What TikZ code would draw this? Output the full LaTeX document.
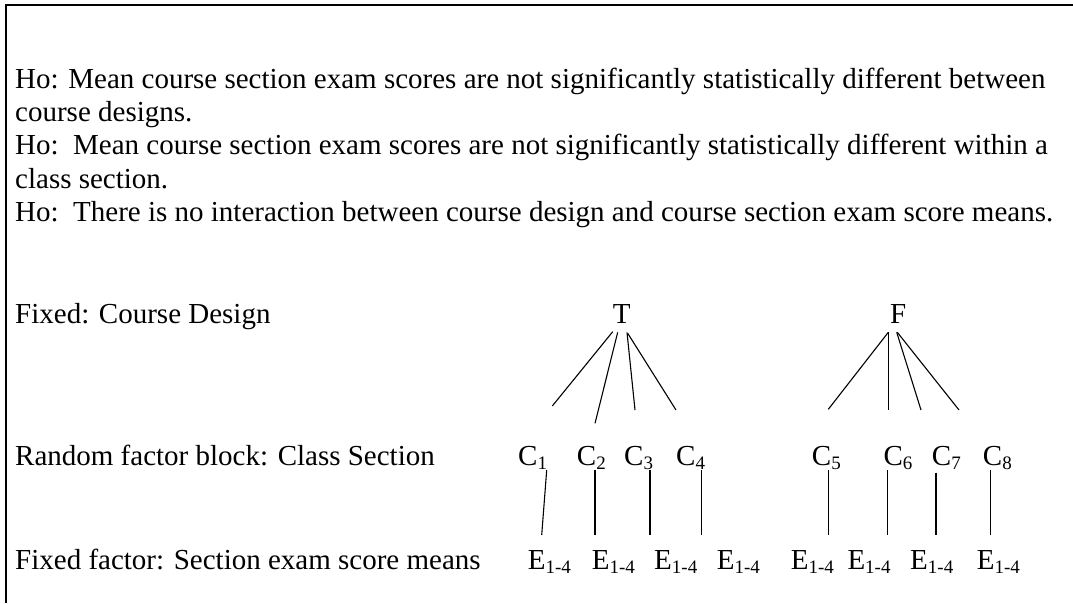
\documentclass[tikz,border=0pt]{standalone}
\usepackage{fontspec}
\setmainfont{Liberation Serif}
\newcommand\mysub[1]{\raisebox{-0.14em}{\fontsize{19}{19}\selectfont #1}}
\begin{document}
\begin{tikzpicture}[x=1pt,y=-1pt,
  txt/.style={anchor=base west,inner sep=0pt,font=\fontsize{29}{31}\selectfont},
  lab/.style={anchor=base,inner sep=0pt,font=\fontsize{29}{31}\selectfont},
  conn/.style={line width=1.1pt}]
\useasboundingbox (0,0) rectangle (1073,603);
\draw[line width=2.4pt] (1073,5) -- (6,5) -- (6,603);
% hypotheses
\node[txt] (h1) at (15,88) {Ho: Mean course section exam scores are not significantly statistically different between};
\node[txt] (h2) at (15,121.4) {course designs.};
\node[txt] (h3) at (15,154.7) {Ho:\ \ Mean course section exam scores are not significantly statistically different within a};
\node[txt] (h4) at (15,188.1) {class section.};
\node[txt] (h5) at (15,221.4) {Ho:\ \ There is no interaction between course design and course section exam score means.};
% row labels
\node[txt] (l1) at (15,323) {Fixed: Course Design};
\node[txt] (l2) at (15,465) {Random factor block: Class Section};
\node[txt] (l3) at (15,569) {Fixed factor: Section exam score means};
% tree
\node[lab] (T) at (621.7,323) {T};
\node[lab] (F) at (898.3,323) {F};
\node[txt] (C1) at (518,465) {C\mysub{1}};
\node[txt] (C2) at (576.7,465) {C\mysub{2}};
\node[txt] (C3) at (624,465) {C\mysub{3}};
\node[txt] (C4) at (676,465) {C\mysub{4}};
\node[txt] (C5) at (811.7,465) {C\mysub{5}};
\node[txt] (C6) at (883.3,465) {C\mysub{6}};
\node[txt] (C7) at (931.7,465) {C\mysub{7}};
\node[txt] (C8) at (982.7,465) {C\mysub{8}};
\node[txt] (E1) at (527.7,569) {E\mysub{1-4}};
\node[txt] (E2) at (591.7,569) {E\mysub{1-4}};
\node[txt] (E3) at (654,569) {E\mysub{1-4}};
\node[txt] (E4) at (716.7,569) {E\mysub{1-4}};
\node[txt] (E5) at (790.7,569) {E\mysub{1-4}};
\node[txt] (E6) at (847.3,569) {E\mysub{1-4}};
\node[txt] (E7) at (910,569) {E\mysub{1-4}};
\node[txt] (E8) at (976.7,569) {E\mysub{1-4}};
% connector end points
\coordinate (t1) at (612.7,331.7); \coordinate (tc1) at (552.3,406);
\coordinate (t2) at (617.7,332.3); \coordinate (tc2) at (595,423.3);
\coordinate (t3) at (627,332.3);   \coordinate (tc3) at (635,410);
\coordinate (t4) at (627.7,333.3); \coordinate (tc4) at (676,410);
\coordinate (f1) at (888.3,332.3); \coordinate (fc5) at (828.3,409.3);
\coordinate (f2) at (888.3,332.3); \coordinate (fc6) at (888.3,410);
\coordinate (f3) at (896.7,332.3); \coordinate (fc7) at (921,410);
\coordinate (f4) at (897.3,332.3); \coordinate (fc8) at (959,410);
\draw[conn] (t1) -- (tc1);
\draw[conn] (t2) -- (tc2);
\draw[conn] (t3) -- (tc3);
\draw[conn] (t4) -- (tc4);
\draw[conn] (f1) -- (fc5);
\draw[conn] (f2) -- (fc6);
\draw[conn] (f3) -- (fc7);
\draw[conn] (f4) -- (fc8);
% C to E
\coordinate (c1b) at (546.7,470); \coordinate (e1t) at (541.7,535);
\coordinate (c2b) at (595,470);   \coordinate (e2t) at (595,535);
\coordinate (c3b) at (650,470);   \coordinate (e3t) at (650,535);
\coordinate (c4b) at (701.7,470); \coordinate (e4t) at (701.7,535);
\coordinate (c5b) at (828.3,470); \coordinate (e5t) at (828.3,535);
\coordinate (c6b) at (887.7,470); \coordinate (e6t) at (887.7,535);
\coordinate (c7b) at (936,472.7); \coordinate (e7t) at (936,535);
\coordinate (c8b) at (990.7,470); \coordinate (e8t) at (990.7,535);
\draw[conn] (c1b) -- (e1t);
\draw[conn] (c2b) -- (e2t);
\draw[conn] (c3b) -- (e3t);
\draw[conn] (c4b) -- (e4t);
\draw[conn] (c5b) -- (e5t);
\draw[conn] (c6b) -- (e6t);
\draw[conn] (c7b) -- (e7t);
\draw[conn] (c8b) -- (e8t);
\end{tikzpicture}
\end{document}
